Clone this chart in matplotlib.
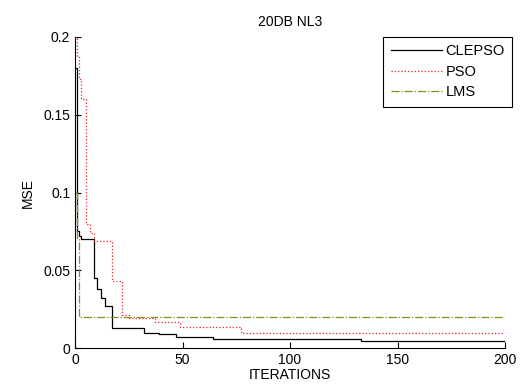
import matplotlib
matplotlib.use('Agg')
import matplotlib.pyplot as plt

plt.rcParams['font.family'] = ['Liberation Sans', 'DejaVu Sans']
plt.rcParams['font.size'] = 10

# step breakpoints (value holds until next iteration)
clepso_iter = [0, 1, 2, 3, 9, 10, 12, 14, 17, 32, 39, 47, 64, 133, 200]
clepso_mse = [0.18, 0.075, 0.072, 0.070, 0.045, 0.038, 0.032, 0.027, 0.0127,
              0.0099, 0.0088, 0.0069, 0.0056, 0.0045, 0.0045]

pso_iter = [0, 1, 2, 3, 5, 7, 9, 17, 22, 25, 37, 49, 77, 200]
pso_mse = [0.2, 0.187, 0.173, 0.16, 0.08, 0.074, 0.069, 0.043, 0.021, 0.019,
           0.017, 0.0133, 0.0097, 0.0097]

lms_iter = [0, 1, 2, 200]
lms_mse = [0.1, 0.07, 0.02, 0.02]

fig = plt.figure(figsize=(5.3, 3.9), dpi=100)
ax = fig.add_axes([75 / 530, 1 - 348 / 390, 430 / 530, 311 / 390])

ax.step(clepso_iter, clepso_mse, where='post', color='black', lw=0.9, label='CLEPSO')
ax.step(pso_iter, pso_mse, where='post', color='#e8202a', lw=0.9, ls=':', label='PSO')
ax.step(lms_iter, lms_mse, where='post', color='#8c8c1a', lw=0.9, ls='-.', label='LMS')

ax.set_xlim(0, 200)
ax.set_ylim(0, 0.2)
ax.set_xticks([0, 50, 100, 150, 200])
ax.set_yticks([0, 0.05, 0.1, 0.15, 0.2])
ax.set_yticklabels(['0', '0.05', '0.1', '0.15', '0.2'])
ax.tick_params(direction='in', length=4, width=0.8, labelsize=10)
ax.spines['top'].set_visible(False)
ax.spines['right'].set_visible(False)

ax.set_title('20DB NL3', fontsize=10, pad=8)
ax.set_xlabel('ITERATIONS', fontsize=10, labelpad=1)
ax.set_ylabel('MSE', fontsize=10, labelpad=6)

leg = ax.legend(loc='upper right', bbox_to_anchor=(512 / 530, 1 - 37 / 390),
                bbox_transform=fig.transFigure, borderaxespad=0,
                fancybox=False, edgecolor='black', framealpha=1,
                handlelength=3.5, handletextpad=0.25, borderpad=0.5,
                labelspacing=0.45, fontsize=10.5)
leg.get_frame().set_linewidth(0.8)

fig.savefig('out.png', dpi=100)
